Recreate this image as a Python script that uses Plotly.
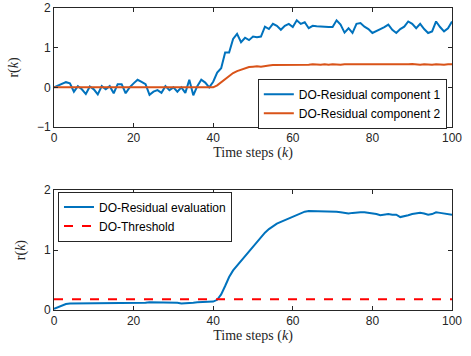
import plotly.graph_objects as go

k = list(range(101))

res_comp1 = [0.0, 0.05, 0.1, 0.13, 0.1, -0.11, 0.03, -0.05, -0.17, 0.02,
             -0.05, -0.18, 0.03, -0.05, 0.03, -0.15, 0.08, 0.08, -0.15, 0.0,
             0.1, 0.19, 0.14, 0.08, -0.19, -0.11, -0.07, -0.14, 0.03, -0.07,
             0.0, -0.11, 0.0, -0.14, 0.19, -0.2, 0.03, 0.19, 0.12, 0.0,
             0.14, 0.37, 0.48, 0.88, 0.88, 1.22, 1.35, 1.14, 1.25, 1.19,
             1.28, 1.26, 1.28, 1.53, 1.47, 1.6, 1.55, 1.45, 1.55, 1.6,
             1.52, 1.69, 1.6, 1.64, 1.49, 1.55, 1.54, 1.53, 1.53, 1.52,
             1.52, 1.69, 1.58, 1.38, 1.49, 1.37, 1.6, 1.62, 1.53, 1.47,
             1.37, 1.41, 1.47, 1.52, 1.58, 1.45, 1.37, 1.47, 1.53, 1.66,
             1.6, 1.49, 1.6, 1.47, 1.37, 1.41, 1.66, 1.52, 1.41, 1.49, 1.66]

res_comp2 = [0.0] * 41 + [0.05, 0.13, 0.22, 0.3, 0.36, 0.41, 0.45, 0.48, 0.51,
             0.52, 0.53, 0.52, 0.54, 0.55, 0.56, 0.56, 0.57, 0.56, 0.56,
             0.57, 0.57, 0.56, 0.57, 0.57, 0.58, 0.57, 0.57, 0.58, 0.57,
             0.58, 0.57, 0.57, 0.58, 0.58, 0.57, 0.58, 0.57, 0.58, 0.58,
             0.57, 0.58, 0.57, 0.57, 0.58, 0.57, 0.58, 0.57, 0.58, 0.58,
             0.59, 0.58, 0.57, 0.58, 0.57, 0.57, 0.58, 0.57, 0.57, 0.58, 0.58]

res_eval = [0.02, 0.05, 0.08, 0.1, 0.11, 0.11, 0.11, 0.11, 0.11, 0.11,
            0.11, 0.12, 0.12, 0.11, 0.11, 0.11, 0.12, 0.12, 0.11, 0.11,
            0.11, 0.11, 0.12, 0.12, 0.13, 0.13, 0.13, 0.12, 0.12, 0.13,
            0.13, 0.12, 0.11, 0.11, 0.12, 0.12, 0.13, 0.13, 0.14, 0.14,
            0.14, 0.17, 0.26, 0.4, 0.55, 0.66, 0.74, 0.81, 0.9, 0.98,
            1.06, 1.14, 1.22, 1.29, 1.35, 1.4, 1.44, 1.47, 1.5, 1.52,
            1.55, 1.58, 1.62, 1.64, 1.65, 1.65, 1.64, 1.65, 1.64, 1.64,
            1.64, 1.64, 1.63, 1.62, 1.61, 1.62, 1.63, 1.63, 1.63, 1.62,
            1.62, 1.6, 1.58, 1.59, 1.6, 1.59, 1.59, 1.55, 1.56, 1.58,
            1.6, 1.61, 1.62, 1.61, 1.59, 1.6, 1.63, 1.62, 1.61, 1.6, 1.59]

threshold = [0.18] * 101

x_ticks = [0, 20, 40, 60, 80, 100]
y_ticks_top = [-1, 0, 1, 2]
y_ticks_bottom = [0, 1, 2]

BLUE = "#0072BD"
ORANGE = "#D95319"
AX = "#262626"

fig = go.Figure()
fig.add_trace(go.Scatter(x=k, y=res_comp1, mode="lines", name="DO-Residual component 1",
                         line=dict(color=BLUE, width=2), xaxis="x", yaxis="y", legend="legend"))
fig.add_trace(go.Scatter(x=k, y=res_comp2, mode="lines", name="DO-Residual component 2",
                         line=dict(color=ORANGE, width=2), xaxis="x", yaxis="y", legend="legend"))
fig.add_trace(go.Scatter(x=k, y=res_eval, mode="lines", name="DO-Residual evaluation",
                         line=dict(color=BLUE, width=2), xaxis="x2", yaxis="y2", legend="legend2"))
fig.add_trace(go.Scatter(x=k, y=threshold, mode="lines", name="DO-Threshold",
                         line=dict(color="#FF0000", width=2, dash="dash"), xaxis="x2", yaxis="y2",
                         legend="legend2"))

tickfont = dict(family="Liberation Sans, Arial", size=12, color=AX)
titlefont = dict(family="Liberation Serif, Times New Roman", size=14, color=AX)

def xax(anchor):
    return dict(range=[0, 100], tickvals=x_ticks, ticks="inside", ticklen=4, tickcolor=AX,
                showline=True, linecolor=AX, linewidth=1, mirror="allticks", showgrid=False,
                zeroline=False, tickfont=tickfont, anchor=anchor, automargin=False,
                title=dict(text="Time steps (<i>k</i>)", font=titlefont, standoff=2))

def yax(rng, ticks, domain, anchor):
    return dict(range=rng, tickvals=ticks, ticks="inside", ticklen=4, tickcolor=AX,
                showline=True, linecolor=AX, linewidth=1, mirror="allticks", showgrid=False,
                zeroline=False, tickfont=tickfont, domain=domain, anchor=anchor, automargin=False,
                title=dict(text="r(<i>k</i>)", font=titlefont, standoff=15))

legfont = dict(family="Liberation Sans, Arial", size=12, color="black")

fig.update_layout(
    width=471, height=356,
    margin=dict(l=54, r=19, t=8, b=46),
    paper_bgcolor="white", plot_bgcolor="white",
    showlegend=True,
    xaxis=xax("y"),
    yaxis=yax([-1, 2], y_ticks_top, [0.606, 1.0], "x"),
    xaxis2=xax("y2"),
    yaxis2=yax([0, 2], y_ticks_bottom, [0.0, 0.397], "x2"),
    legend=dict(x=0.987, y=0.60, xanchor="right", yanchor="bottom", font=legfont,
                bgcolor="white", bordercolor=AX, borderwidth=1, tracegroupgap=0,
                itemwidth=30),
    legend2=dict(x=0.01, y=0.392, xanchor="left", yanchor="top", font=legfont,
                 bgcolor="white", bordercolor=AX, borderwidth=1, tracegroupgap=0,
                 itemwidth=30),
)

fig.write_html("out.html", config={"displayModeBar": False},
               post_script="document.body.style.margin='0';")
